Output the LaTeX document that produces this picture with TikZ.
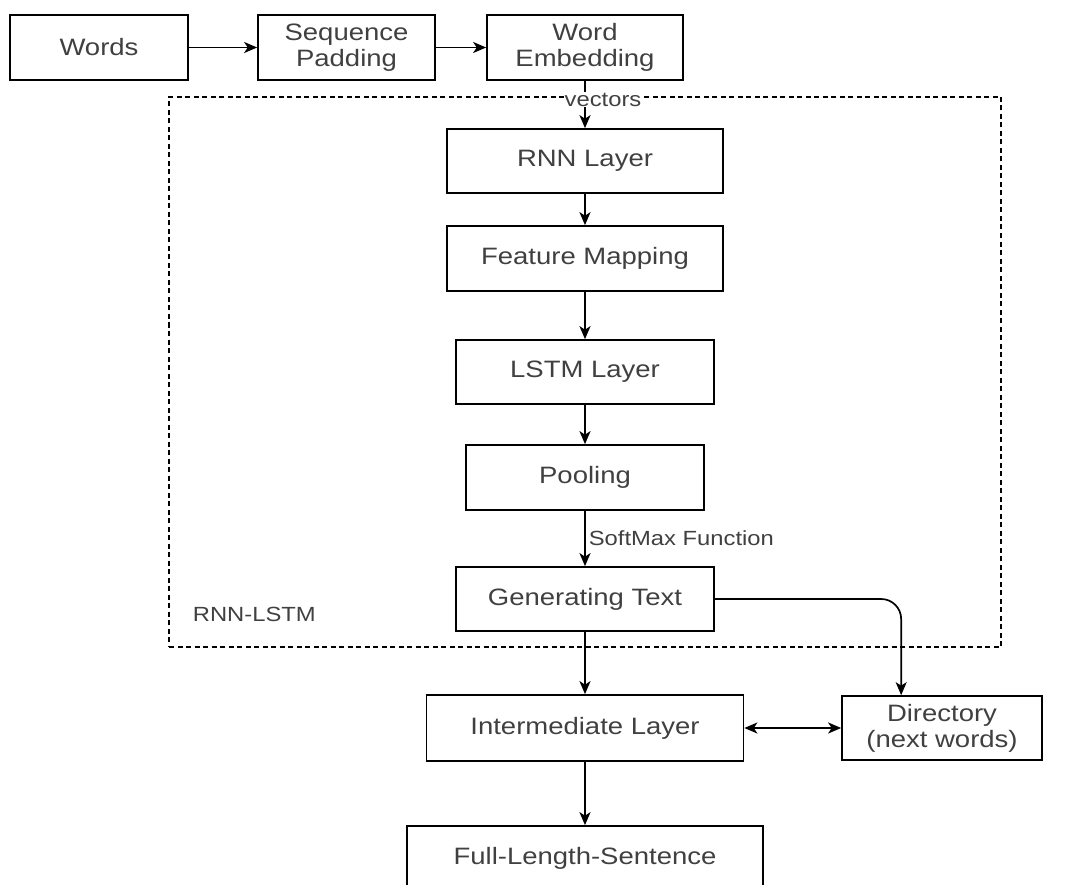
\documentclass[tikz,border=0pt]{standalone}
\usepackage{fontspec}
\setmainfont[FakeStretch=1.16]{Liberation Sans}
\usetikzlibrary{arrows.meta}

\begin{document}
\begin{tikzpicture}[x=1pt, y=-1pt, line width=1.7pt,
  >={Stealth[length=13pt,width=11pt,inset=3.5pt]},
  block/.style={draw, inner sep=0pt, align=center, text=black!75,
    font=\fontsize{23.7}{26}\selectfont},
  small label/.style={text=black!75, inner sep=3pt,
    font=\fontsize{20.5}{24}\selectfont},
  frame/.style={draw, dash pattern=on 5pt off 3.5pt, inner sep=0pt}]

\useasboundingbox (0,0) rectangle (1070,885);

% dashed frame round the generator
\node [frame, minimum width=832pt, minimum height=550pt] (rnnlstm) at (585,372) {};
\node [small label, anchor=west] (rnnlstm-label) at (189,614) {RNN-LSTM};

\foreach \n/\t/\x/\w in {words/Words/99/178, seqpad/Sequence\\Padding/346.5/177, wordemb/Word\\Embedding/585/196}
  \node [block, minimum width=\w pt, minimum height=65pt] (\n) at (\x,47.5) {\t};

\foreach \n/\t/\y/\w/\h in {rnn/RNN Layer/161/276/64, featmap/Feature Mapping/258.5/276/65,
    lstm/LSTM Layer/372/258/64, pool/Pooling/477.5/238/65, gentext/Generating Text/599/258/64}
  \node [block, minimum width=\w pt, minimum height=\h pt] (\n) at (585,\y) {\t};

\node [block, minimum width=317pt, minimum height=66pt] (inter) at (585,728) {Intermediate Layer};
\node [block, minimum width=200pt, minimum height=64pt] (dir) at (942,728) {Directory\\(next words)};
\node [block, minimum width=356pt, minimum height=65pt] (fullsent) at (585,858.5) {Full-Length-Sentence};

\draw [->] (words) -- (seqpad);
\draw [->] (seqpad) -- (wordemb);
\draw [->] (wordemb) -- (rnn)
  node [small label, fill=white, inner sep=1pt, pos=0.4, xshift=18pt] (vectors-label) {vectors};

\foreach \a/\b in {rnn/featmap, featmap/lstm, lstm/pool}
  \draw [->] (\a) -- (\b);

\draw [->] (pool) -- (gentext)
  node [small label, midway, right] (softmax-label) {SoftMax Function};
\draw [->] (gentext) -- (inter);
\draw [->, rounded corners=20pt] (gentext.east) -| ([xshift=60pt]dir.north west);
\draw [<->] (inter) -- (dir);
\draw [->] (inter) -- (fullsent);

\end{tikzpicture}
\end{document}
